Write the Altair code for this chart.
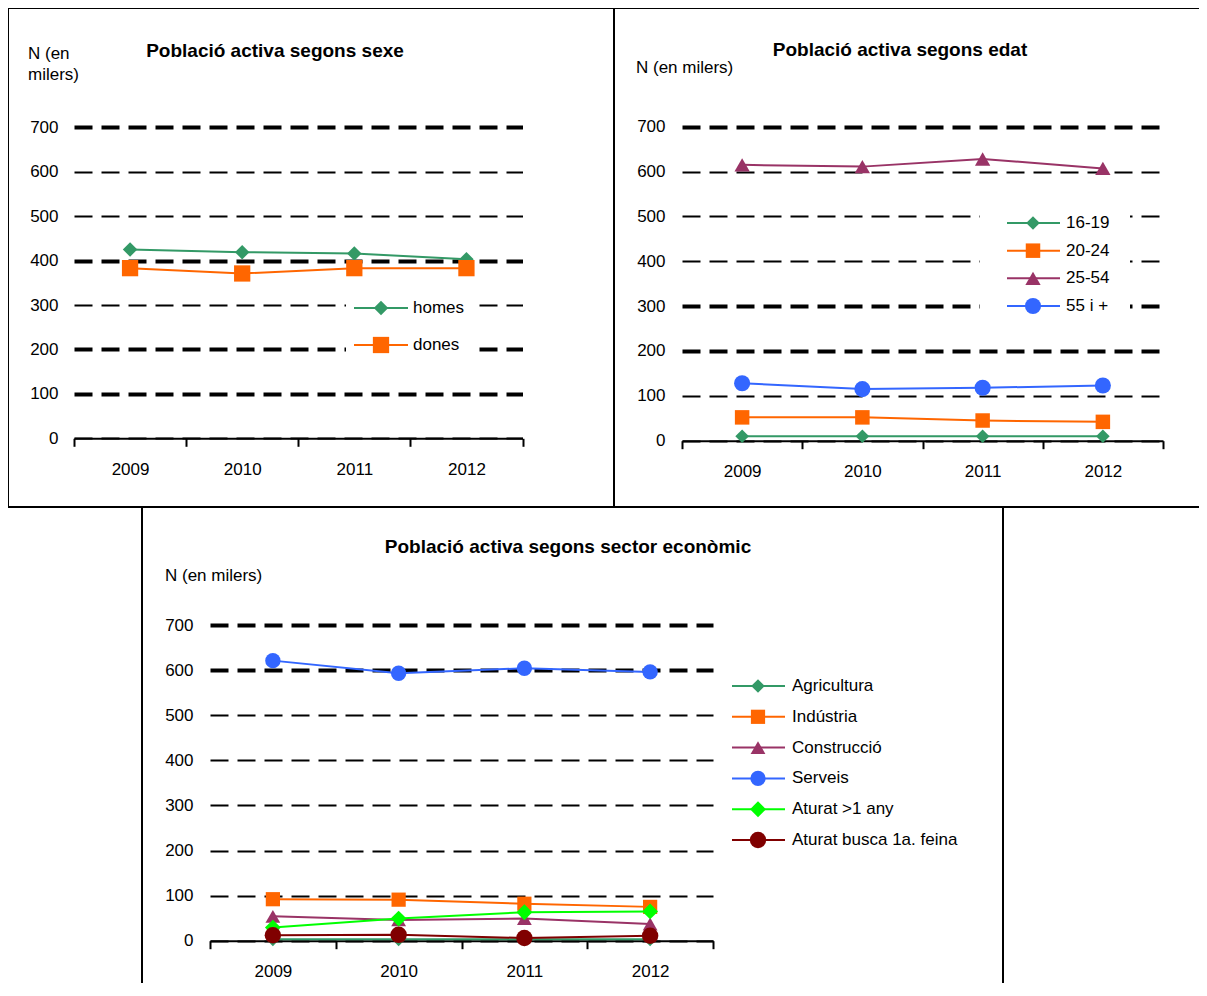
import altair as alt
import pandas as pd

# ---------------- data ----------------
YEARS = [2009, 2010, 2011, 2012]
Y_TICKS = [0, 100, 200, 300, 400, 500, 600, 700]

SEXE_SERIES = ["homes", "dones"]
SEXE_HOMES = [425, 419, 416, 403]
SEXE_DONES = [383, 371, 383, 383]

EDAT_SERIES = ["16-19", "20-24", "25-54", "55 i +"]
EDAT_16_19 = [10, 10, 10, 10]
EDAT_20_24 = [52, 52, 45, 42]
EDAT_25_54 = [615, 611, 628, 607]
EDAT_55 = [128, 115, 118, 123]

SECTOR_SERIES = ["Agricultura", "Indústria", "Construcció", "Serveis",
                 "Aturat >1 any", "Aturat busca 1a. feina"]
SECTOR_AGRI = [3, 3, 3, 3]
SECTOR_IND = [92, 91, 82, 75]
SECTOR_CONS = [54, 46, 49, 37]
SECTOR_SERV = [621, 593, 604, 596]
SECTOR_ATUR1 = [29, 49, 63, 65]
SECTOR_ATUR2 = [12, 13, 6, 11]

TITLES = ["Població activa segons sexe", "Població activa segons edat",
          "Població activa segons sector econòmic"]

# ---------------- styles ----------------
GREEN, ORANGE, PLUM, BLUE, LIME, MAROON = "#339966", "#FF6600", "#993366", "#3366FF", "#00FF00", "#800000"
FONT = "Liberation Sans"
W, H = 1191, 975
M = 8  # page margin


def v(p):
    return p - M


def long_table(series, values):
    rows = []
    for s, vals in zip(series, values):
        for yr, val in zip(YEARS, vals):
            rows.append({"serie": s, "any": yr, "valor": val})
    return pd.DataFrame(rows)


def panel(series, values, colors, shapes, sizes, x0, x1, y0, y700, lab_pad, thick):
    df = long_table(series, values)
    band = (x1 - x0) / 4.0
    test = " || ".join(f"datum.value === {t}" for t in thick)
    xenc = alt.X(
        "any:Q",
        scale=alt.Scale(domain=[2008.5, 2012.5], range=[v(x0), v(x1)], nice=False, zero=False),
        axis=alt.Axis(orient="bottom", offset=v(y0) - H, values=[2008.5, 2009.5, 2010.5, 2011.5, 2012.5],
                      labelExpr="datum.value > 2012 ? '' : format(datum.value + 0.5, 'd')",
                      labelOffset=band / 2, grid=False, title=None, labelPadding=15),
    )
    yenc = alt.Y(
        "valor:Q",
        scale=alt.Scale(domain=[0, 700], range=[v(y0), v(y700)], nice=False, zero=False),
        axis=alt.Axis(orient="left", offset=-v(x0), values=Y_TICKS, ticks=False, domain=False,
                      grid=True, gridDash=[18, 9], gridColor="black", gridOpacity=1,
                      gridWidth={"condition": {"test": test, "value": 4}, "value": 2},
                      labelPadding=lab_pad, format="d", title=None),
    )
    color = alt.Color("serie:N", scale=alt.Scale(domain=series, range=colors), legend=None)
    shape = alt.Shape("serie:N", scale=alt.Scale(domain=series, range=shapes), legend=None)
    size = alt.Size("serie:N", scale=alt.Scale(domain=series, range=sizes), legend=None)
    base = alt.Chart(df)
    lines = base.mark_line(strokeWidth=2).encode(x=xenc, y=yenc, color=color)
    pts = base.mark_point(filled=True, opacity=1).encode(x=xenc, y=yenc, color=color, shape=shape, size=size)
    return alt.layer(lines, pts)


def legend(series, colors, shapes, sizes, lx0, lx1, sx, tx, yfirst, ylast):
    df = pd.DataFrame({"serie": series, "ordre": list(range(len(series)))})
    yenc = alt.Y("ordre:Q", scale=alt.Scale(domain=[0, len(series) - 1], range=[v(yfirst), v(ylast)],
                                           nice=False, zero=False), axis=None)
    color = alt.Color("serie:N", scale=alt.Scale(domain=series, range=colors), legend=None)
    shape = alt.Shape("serie:N", scale=alt.Scale(domain=series, range=shapes), legend=None)
    size = alt.Size("serie:N", scale=alt.Scale(domain=series, range=sizes), legend=None)
    base = alt.Chart(df)
    r = base.mark_rule(strokeWidth=2).encode(x=alt.value(v(lx0)), x2=alt.value(v(lx1)), y=yenc, color=color)
    p = base.mark_point(filled=True, opacity=1).encode(x=alt.value(v(sx)), y=yenc, color=color, shape=shape, size=size)
    t = base.mark_text(align="left", baseline="middle", font=FONT, fontSize=17, color="black").encode(
        x=alt.value(v(tx)), y=yenc, text="serie:N")
    return alt.layer(r, p, t)


ONE = pd.DataFrame({"k": [0]})


def rule(x, x2, y, y2, w=2):
    return alt.Chart(ONE).mark_rule(color="black", strokeWidth=w).encode(
        x=alt.value(x), x2=alt.value(x2), y=alt.value(y), y2=alt.value(y2))


def box(x, x2, y, y2):
    return alt.Chart(ONE).mark_rect(fill="white", stroke=None).encode(
        x=alt.value(v(x)), x2=alt.value(v(x2)), y=alt.value(v(y)), y2=alt.value(v(y2)))


def label(txt, x, y, align="left", bold=False, size=17):
    return alt.Chart(ONE).mark_text(align=align, baseline="alphabetic", font=FONT, fontSize=size,
                                    fontWeight="bold" if bold else "normal", color="black").encode(
        x=alt.value(v(x)), y=alt.value(v(y)), text=alt.value(txt))


SEXE_COL, SEXE_SH, SEXE_SZ = [GREEN, ORANGE], ["diamond", "square"], [210, 265]
EDAT_COL, EDAT_SH, EDAT_SZ = [GREEN, ORANGE, PLUM, BLUE], ["diamond", "square", "triangle-up", "circle"], [185, 260, 260, 260]
SECT_COL = [GREEN, ORANGE, PLUM, BLUE, LIME, MAROON]
SECT_SH = ["diamond", "square", "triangle-up", "circle", "diamond", "circle"]
SECT_SZ = [185, 270, 250, 270, 210, 270]

pA = panel(SEXE_SERIES, [SEXE_HOMES, SEXE_DONES], SEXE_COL, SEXE_SH, SEXE_SZ,
           74, 522.5, 438.3, 127.3, 16, [700, 400, 200, 100])
pB = panel(EDAT_SERIES, [EDAT_16_19, EDAT_20_24, EDAT_25_54, EDAT_55], EDAT_COL, EDAT_SH, EDAT_SZ,
           682, 1163, 440.7, 126.7, 17, [700, 300, 200])
pC = panel(SECTOR_SERIES, [SECTOR_AGRI, SECTOR_IND, SECTOR_CONS, SECTOR_SERV, SECTOR_ATUR1, SECTOR_ATUR2],
           SECT_COL, SECT_SH, SECT_SZ, 210, 713, 940.7, 625, 17, [700, 600])

lA = legend(SEXE_SERIES, SEXE_COL, SEXE_SH, SEXE_SZ, 354, 408, 381, 413, 308, 345)
lB = legend(EDAT_SERIES, EDAT_COL, EDAT_SH, EDAT_SZ, 1007, 1060, 1033, 1066, 223, 306)
lC = legend(SECTOR_SERIES, SECT_COL, SECT_SH, SECT_SZ, 732, 785, 758, 792, 686, 840)

layers = [
    pA, pB, pC,
    box(346, 472, 288, 364), box(980, 1130, 208, 320),
    lA, lB, lC,
    rule(0, W, 0, 0), rule(0, 0, 0, v(507)), rule(v(614), v(614), 0, v(507)),
    rule(0, W, v(507), v(507)),
    rule(v(142), v(142), v(507), H), rule(v(1003), v(1003), v(507), H),
    label(TITLES[0], 275, 56.5, align="center", bold=True, size=19),
    label(TITLES[1], 900, 56, align="center", bold=True, size=19),
    label(TITLES[2], 568, 553, align="center", bold=True, size=19),
    label("N (en", 28, 59), label("milers)", 28, 80),
    label("N (en milers)", 636, 73),
    label("N (en milers)", 165, 581),
]

chart = alt.layer(*layers).resolve_scale(
    x="independent", y="independent", color="independent", shape="independent", size="independent"
).properties(
    width=W, height=H, padding=0, background="white",
    autosize=alt.AutoSizeParams(type="none"),
).configure_view(stroke=None).configure_axis(
    labelFont=FONT, labelFontSize=17, labelColor="black", domainColor="black", domainWidth=2,
    tickColor="black", tickWidth=2, tickSize=8, labelFlush=False, labelOverlap=False, labelBound=False,
)

chart.save("out.html", embed_options={"renderer": "svg", "actions": False})
